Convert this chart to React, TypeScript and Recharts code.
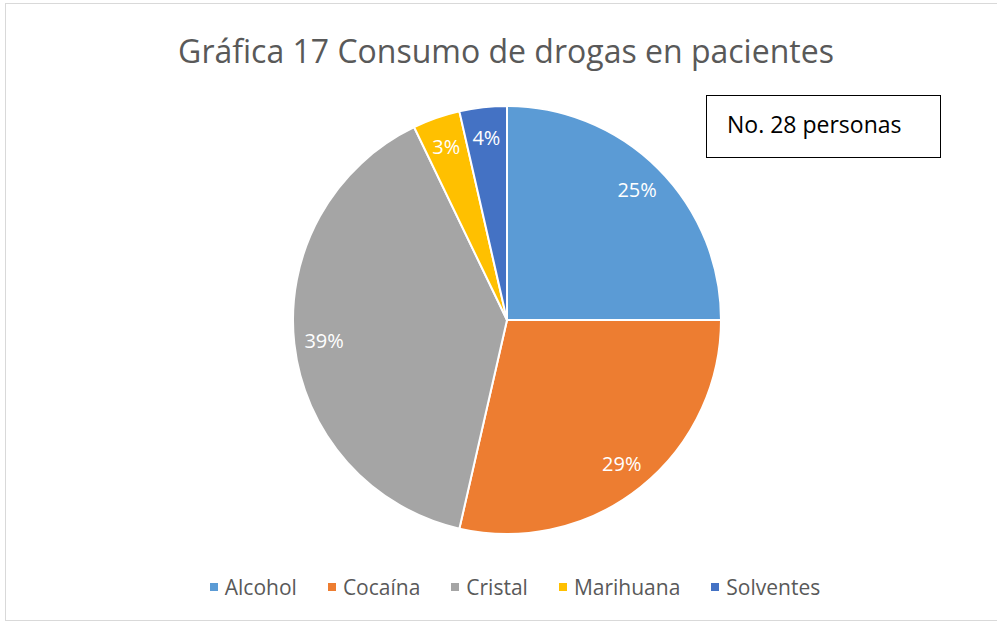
import { PieChart, Pie, Cell } from 'recharts';

const categories = ['Alcohol', 'Cocaína', 'Cristal', 'Marihuana', 'Solventes'];
const patients = [7, 8, 11, 1, 1];
const labelTexts = ['25%', '29%', '39%', '3%', '4%'];
const colors = ['#5B9BD5', '#ED7D31', '#A5A5A5', '#FFC000', '#4472C4'];

const data = categories.map((name, i) => ({ name, value: patients[i], label: labelTexts[i] }));

const RAD = Math.PI / 180;

function renderLabel(props: any) {
  const { cx, cy, midAngle, outerRadius, index } = props;
  const r = outerRadius * 0.86;
  const x = cx + r * Math.cos(-midAngle * RAD);
  const y = cy + r * Math.sin(-midAngle * RAD);
  return (
    <text
      x={x}
      y={y}
      fill="#ffffff"
      fontSize={20}
      textAnchor="middle"
      dominantBaseline="central"
    >
      {data[index].label}
    </text>
  );
}

export default function App() {
  return (
    <div
      style={{
        position: 'absolute',
        left: 0,
        top: 0,
        width: 997,
        height: 625,
        background: '#fff',
        fontFamily: '"Open Sans", sans-serif',
      }}
    >
      <div
        style={{
          position: 'absolute',
          left: 5,
          top: 3,
          width: 995,
          height: 618,
          border: '1px solid #d9d9d9',
          boxSizing: 'border-box',
        }}
      />
      <div
        style={{
          position: 'absolute',
          left: 0,
          width: 1012,
          top: 29,
          textAlign: 'center',
          fontSize: 32,
          color: '#595959',
          lineHeight: '44px',
        }}
      >
        Gráfica 17 Consumo de drogas en pacientes
      </div>
      <div style={{ position: 'absolute', left: 0, top: 0 }}>
        <PieChart width={1014} height={640} margin={{ top: 0, right: 0, bottom: 0, left: 0 }}>
          <Pie
            data={data}
            dataKey="value"
            nameKey="name"
            cx={507}
            cy={320}
            outerRadius={214}
            startAngle={90}
            endAngle={-270}
            stroke="#ffffff"
            strokeWidth={2}
            label={renderLabel}
            labelLine={false}
            isAnimationActive={false}
          >
            {data.map((d, i) => (
              <Cell key={d.name} fill={colors[i]} />
            ))}
          </Pie>
        </PieChart>
      </div>
      <div
        style={{
          position: 'absolute',
          left: 706,
          top: 95,
          width: 235,
          height: 63,
          border: '1px solid #000',
          boxSizing: 'border-box',
          fontSize: 23,
          color: '#000',
          paddingLeft: 20,
          lineHeight: '56px',
        }}
      >
        No. 28 personas
      </div>
      <div
        style={{
          position: 'absolute',
          left: 8,
          width: 1014,
          top: 571,
          display: 'flex',
          justifyContent: 'center',
          gap: 31,
          fontSize: 21,
          color: '#595959',
          lineHeight: '32px',
        }}
      >
        {categories.map((c, i) => (
          <div key={c} style={{ display: 'flex', alignItems: 'center' }}>
            <span
              style={{
                display: 'inline-block',
                width: 8,
                height: 8,
                background: colors[i],
                marginRight: 7,
              }}
            />
            {c}
          </div>
        ))}
      </div>
    </div>
  );
}
